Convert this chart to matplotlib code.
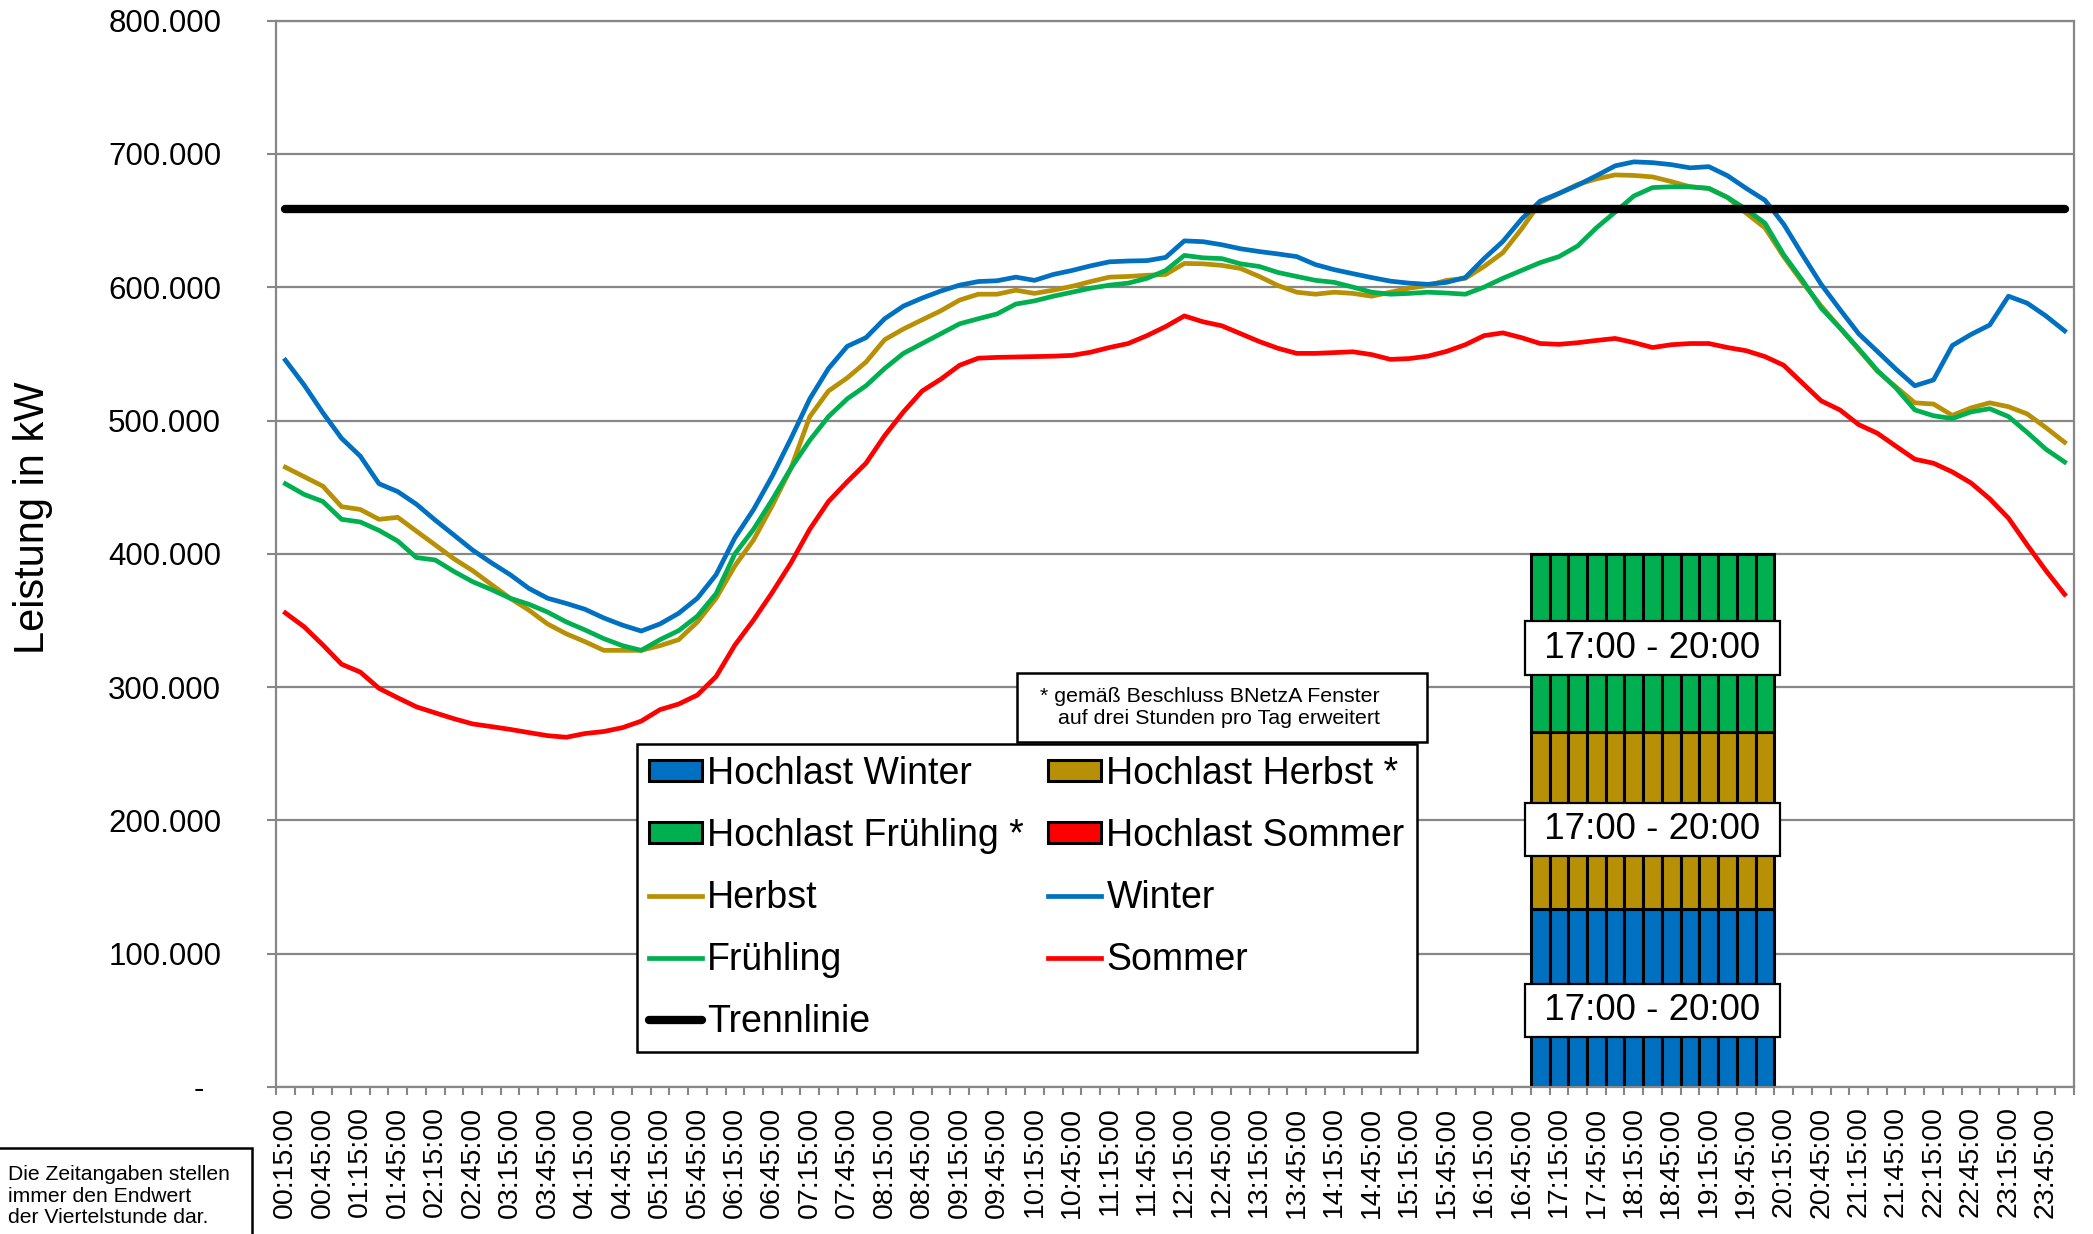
import numpy as np
import matplotlib
matplotlib.use("Agg")
import matplotlib.pyplot as plt
from matplotlib.patches import Patch, Rectangle
from matplotlib.ticker import FuncFormatter

plt.rcParams['font.family'] = ['Liberation Sans', 'DejaVu Sans']

# ---------------- data ----------------
# categories: end of each quarter hour
times = [f"{(m // 60) % 24:02d}:{m % 60:02d}:00" for m in range(15, 24 * 60 + 1, 15)]

# load values in thousand kW
herbst = [
    465.0, 457.9, 450.8, 435.4, 433.3, 425.9, 427.4, 417.0, 406.7, 396.3,
    387.4, 377.0, 366.7, 357.8, 347.4, 340.0, 334.1, 327.6, 327.6, 327.6,
    331.1, 335.6, 348.9, 366.7, 391.0, 410.5, 436.3, 464.4, 503.0, 522.2,
    532.0, 543.9, 560.7, 568.7, 575.6, 582.4, 590.4, 594.8, 594.8, 597.8,
    595.4, 597.8, 600.7, 604.3, 607.6, 608.1, 609.0, 609.6, 617.9, 617.6,
    616.4, 614.1, 608.1, 601.3, 596.3, 594.8, 596.3, 595.4, 593.3, 596.3,
    599.3, 601.3, 605.2, 606.7, 615.6, 625.9, 643.7, 663.6, 670.4, 677.2,
    681.3, 684.3, 683.9, 682.8, 679.3, 675.4, 674.2, 667.4, 655.6, 644.6,
    623.0, 603.7, 585.9, 569.6, 553.3, 537.0, 525.2, 513.3, 512.4, 503.9,
    509.5, 513.3, 510.4, 505.0, 494.7, 483.7]

winter = [
    545.3, 526.7, 505.9, 486.7, 473.3, 452.6, 446.7, 437.2, 425.3, 414.1,
    402.8, 393.3, 384.4, 374.1, 366.7, 362.8, 358.4, 351.9, 346.5, 342.1,
    347.4, 355.4, 366.7, 384.4, 412.0, 433.3, 458.5, 486.7, 516.3, 539.1,
    555.7, 562.2, 576.4, 585.9, 591.9, 597.2, 601.6, 604.3, 604.9, 607.6,
    605.2, 609.6, 612.6, 616.1, 619.1, 619.7, 620.0, 622.4, 634.8, 634.2,
    631.9, 628.9, 626.8, 625.0, 623.0, 617.0, 613.2, 610.2, 607.3, 604.6,
    603.1, 602.2, 603.7, 607.3, 621.5, 634.3, 651.1, 664.7, 670.4, 676.6,
    683.7, 691.1, 694.1, 693.5, 692.0, 689.6, 690.5, 683.7, 674.2, 665.3,
    647.3, 624.4, 602.2, 583.4, 565.2, 551.9, 538.5, 526.1, 530.5, 556.3,
    564.6, 571.7, 593.3, 588.1, 578.5, 567.3]

fruehling = [
    452.6, 444.6, 439.3, 425.9, 423.9, 417.6, 409.6, 397.2, 395.4, 386.8,
    379.1, 373.2, 366.7, 362.2, 356.3, 348.9, 342.9, 336.4, 331.1, 327.6,
    335.6, 342.4, 353.3, 370.2, 400.0, 418.5, 440.7, 464.4, 485.2, 503.0,
    516.3, 526.1, 539.1, 550.4, 557.8, 565.2, 572.6, 576.4, 580.0, 587.4,
    589.8, 593.3, 596.3, 599.3, 601.6, 603.1, 606.7, 612.6, 623.9, 622.1,
    621.5, 617.6, 615.6, 611.1, 608.1, 605.2, 603.7, 600.1, 596.3, 594.8,
    595.4, 596.3, 595.7, 594.8, 600.1, 606.7, 612.6, 618.5, 623.0, 631.0,
    644.6, 656.4, 668.5, 674.8, 675.4, 675.4, 674.2, 667.4, 658.5, 648.1,
    624.4, 605.2, 584.4, 569.6, 553.9, 537.6, 524.3, 508.0, 503.6, 501.5,
    506.5, 508.9, 503.0, 491.1, 478.5, 468.9]

sommer = [
    355.7, 345.3, 331.7, 317.2, 311.3, 299.1, 292.0, 285.2, 280.7, 276.3,
    272.4, 270.4, 268.3, 265.9, 263.6, 262.4, 265.2, 266.7, 269.6, 274.5,
    283.1, 287.3, 294.1, 308.0, 331.5, 350.4, 371.1, 393.3, 418.5, 439.3,
    454.1, 468.0, 488.7, 506.5, 522.2, 531.1, 541.5, 546.8, 547.4, 547.7,
    548.0, 548.3, 548.9, 551.3, 554.8, 557.8, 563.7, 570.5, 578.5, 574.1,
    571.1, 565.2, 559.3, 554.2, 550.4, 550.4, 551.0, 551.6, 549.5, 545.9,
    546.5, 548.3, 551.9, 556.9, 563.7, 565.8, 562.2, 557.8, 557.2, 558.4,
    560.1, 561.6, 558.5, 554.8, 556.9, 557.8, 557.8, 554.8, 552.4, 548.0,
    541.5, 528.1, 514.8, 508.0, 497.0, 490.5, 480.7, 471.0, 468.0, 461.5,
    453.2, 441.3, 426.8, 406.7, 387.4, 369.6]

trennlinie = 659.0  # thousand kW

# high-load window bars (thousand kW per stacked segment)
hochlast_times = ["17:00:00", "17:15:00", "17:30:00", "17:45:00", "18:00:00",
                  "18:15:00", "18:30:00", "18:45:00", "19:00:00", "19:15:00",
                  "19:30:00", "19:45:00", "20:00:00"]
hochlast_winter = [133.333, 133.333, 133.333, 133.333, 133.333, 133.333, 133.333,
                   133.333, 133.333, 133.333, 133.333, 133.333, 133.333]
hochlast_herbst = [133.333, 133.333, 133.333, 133.333, 133.333, 133.333, 133.333,
                   133.333, 133.333, 133.333, 133.333, 133.333, 133.333]
hochlast_fruehling = [133.333, 133.333, 133.333, 133.333, 133.333, 133.333, 133.333,
                      133.333, 133.333, 133.333, 133.333, 133.333, 133.333]
hochlast_label = "17:00 - 20:00"

SCALE = 1000.0  # thousand kW -> kW

# ---------------- style ----------------
C_WINTER = '#0070C0'
C_HERBST = '#B89005'
C_FRUEHLING = '#00B050'
C_SOMMER = '#FF0000'
GRID = '#878787'

W, H = 2093, 1234
fig = plt.figure(figsize=(W / 100, H / 100), dpi=100)
ax_left, ax_right, ax_top, ax_bottom = 276, 2074, 20.7, 1087
ax = fig.add_axes([ax_left / W, 1 - ax_bottom / H, (ax_right - ax_left) / W,
                   (ax_bottom - ax_top) / H])

x = np.arange(len(times))

# bars
hx = np.array([times.index(t) for t in hochlast_times])
hw = np.array(hochlast_winter) * SCALE
hh = np.array(hochlast_herbst) * SCALE
hf = np.array(hochlast_fruehling) * SCALE
bar_kw = dict(width=1.0, edgecolor='black', linewidth=2.2, zorder=2)
b_w = ax.bar(hx, hw, color=C_WINTER, **bar_kw)
b_h = ax.bar(hx, hh, bottom=hw, color=C_HERBST, **bar_kw)
b_f = ax.bar(hx, hf, bottom=hw + hh, color=C_FRUEHLING, **bar_kw)

mid = len(hx) // 2
label_offsets = [-9400, -6700, -4000]
for (bottoms, heights), off in zip([(np.zeros_like(hw), hw), (hw, hh), (hw + hh, hf)],
                                   label_offsets):
    ax.text(hx[mid], bottoms[mid] + heights[mid] / 2 + off, " " + hochlast_label + " ",
            ha='center', va='center', fontsize=26.5, zorder=6,
            bbox=dict(boxstyle='square,pad=0.25', fc='white', ec='black', lw=1.6))

# lines
lw = 3.4
l_h, = ax.plot(x, np.array(herbst) * SCALE, color=C_HERBST, lw=lw, zorder=3,
               solid_joinstyle='round', label='Herbst')
l_w, = ax.plot(x, np.array(winter) * SCALE, color=C_WINTER, lw=lw, zorder=3,
               solid_joinstyle='round', label='Winter')
l_f, = ax.plot(x, np.array(fruehling) * SCALE, color=C_FRUEHLING, lw=lw, zorder=3,
               solid_joinstyle='round', label='Frühling')
l_s, = ax.plot(x, np.array(sommer) * SCALE, color=C_SOMMER, lw=lw, zorder=3,
               solid_joinstyle='round', label='Sommer')
l_t, = ax.plot([x[0], x[-1]], [trennlinie * SCALE] * 2, color='black', lw=6,
               solid_capstyle='round', zorder=4, label='Trennlinie')

# axes
ax.set_xlim(-0.5, len(times) - 0.5)
ax.set_ylim(0, 800000)
ax.set_yticks(np.arange(0, 800001, 100000))


def fmt(v, pos):
    if abs(v) < 1:
        return "-  "
    return f"{int(round(v)):,}".replace(",", ".")


ax.yaxis.set_major_formatter(FuncFormatter(fmt))
ax.grid(axis='y', color=GRID, lw=1.6, zorder=0)
ax.set_axisbelow(True)
for s in ax.spines.values():
    s.set_color(GRID)
    s.set_linewidth(1.6)

ax.set_xticks(x[::2])
ax.set_xticklabels(times[::2], rotation=90, fontsize=20.5)
ax.set_xticks(np.arange(-0.5, len(times), 1.0), minor=True)
ax.tick_params(axis='x', which='major', length=0, pad=14)
ax.tick_params(axis='x', which='minor', length=6, width=1.5, color=GRID)
ax.tick_params(axis='y', which='major', length=6.5, width=1.5, color=GRID,
               labelsize=22.5, pad=33)

fig.text(33 / W, 1 - 518 / H, 'Leistung in kW', rotation=90, ha='center',
         va='center', fontsize=30)

# legend
p_sommer = Patch(facecolor=C_SOMMER, edgecolor='black', linewidth=2.2)
handles = [b_w, b_f, l_h, l_f, l_t, b_h, p_sommer, l_w, l_s]
labels = ['Hochlast Winter', 'Hochlast Frühling *', 'Herbst', 'Frühling', 'Trennlinie',
          'Hochlast Herbst *', 'Hochlast Sommer', 'Winter', 'Sommer']
leg = fig.legend(handles, labels, ncol=2, loc='upper left',
                 bbox_to_anchor=(637 / W, 1 - 744 / H), borderaxespad=0,
                 fontsize=27, handlelength=1.4, handleheight=0.5, handletextpad=0.15,
                 columnspacing=0.65, labelspacing=0.69, borderpad=0.32,
                 fancybox=False, framealpha=1, edgecolor='black')
leg.get_frame().set_linewidth(1.8)

# note box (BNetzA)
fig.patches.append(Rectangle((1017 / W, 1 - 742 / H), 410 / W, 69 / H,
                             transform=fig.transFigure, fc='white', ec='black',
                             lw=1.8, zorder=5))
fig.text(1380 / W, 1 - 708 / H,
         "* gemäß Beschluss BNetzA Fenster\nauf drei Stunden pro Tag erweitert",
         ha='right', va='center', ma='right', fontsize=15.4, linespacing=1.2, zorder=6)

# note box bottom left
fig.patches.append(Rectangle((-0.01, -0.01), 252 / W + 0.01, (H - 1148) / H + 0.01,
                             transform=fig.transFigure, fc='white', ec='black',
                             lw=1.8, zorder=5))
fig.text(8 / W, 1 - 1196 / H,
         "Die Zeitangaben stellen\nimmer den Endwert\nder Viertelstunde dar.",
         ha='left', va='center', fontsize=15.2, linespacing=1.15, zorder=6)

fig.savefig('out.png', dpi=100)
